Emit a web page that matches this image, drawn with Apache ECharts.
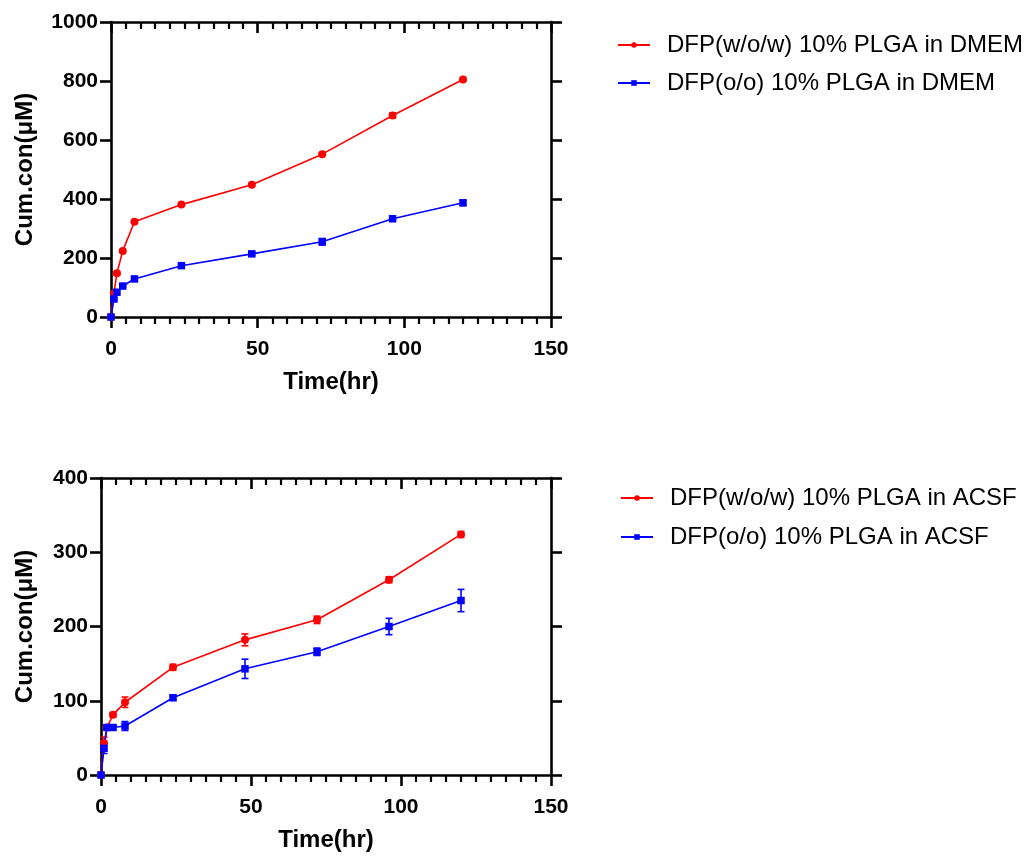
<!DOCTYPE html>
<html><head><meta charset="utf-8">
<script src="https://cdn.jsdelivr.net/npm/echarts@6/dist/echarts.min.js"></script>
<style>html,body{margin:0;padding:0;background:#fff}#c{width:1034px;height:859px}</style>
</head><body><div id="c"></div>
<script>
// Time points (hr)
const timeHr = [0, 1, 2, 4, 8, 24, 48, 72, 96, 120];
// Top panel (DMEM)
const dmemWowName = 'DFP(w/o/w) 10% PLGA in DMEM';
const dmemOoName = 'DFP(o/o) 10% PLGA in DMEM';
const dmemWow = [0, 80, 148, 224, 323, 381, 448, 552, 683, 805];
const dmemWowErr = [0, 4, 5, 4, 4, 4, 4, 4, 9, 4];
const dmemOo = [0, 61, 84, 105, 129, 174, 214, 255, 333, 387];
const dmemOoErr = [0, 4, 4, 4, 5, 4, 5, 11, 4, 9];
// Bottom panel (ACSF)
const acsfWowName = 'DFP(w/o/w) 10% PLGA in ACSF';
const acsfOoName = 'DFP(o/o) 10% PLGA in ACSF';
const acsfWow = [0, 43, 64, 81, 98, 145, 182, 209, 263, 324];
const acsfWowErr = [0, 8, 3, 3, 7, 4, 8, 5, 4, 4];
const acsfOo = [0, 36, 64, 64, 66, 104, 143, 166, 200, 235];
const acsfOoErr = [0, 7, 3, 3, 6, 3, 13, 5, 11, 15];
// Axis ticks
const xTicks = {min: 0, max: 150, interval: 50};
const yTicksTop = {min: 0, max: 1000, interval: 200};
const yTicksBottom = {min: 0, max: 400, interval: 100};

const RED = '#ff0000', BLUE = '#0000ff';
const FONT = 'Liberation Sans, Arial, sans-serif';

function pairs(ys) { return timeHr.map((t, i) => [t, ys[i]]); }
function errData(ys, es) { return timeHr.map((t, i) => [t, ys[i], es[i]]); }

function lineSeries(name, ys, color, symbol, gi) {
  return {
    type: 'line', name: name, data: pairs(ys), xAxisIndex: gi * 2, yAxisIndex: gi * 2,
    symbol: symbol, symbolSize: symbol === 'circle' ? 8 : 7.5, clip: false,
    itemStyle: {color: color}, lineStyle: {color: color, width: 1.6}, z: 5
  };
}
function errSeries(ys, es, color, gi) {
  return {
    type: 'custom', xAxisIndex: gi * 2, yAxisIndex: gi * 2, data: errData(ys, es),
    encode: {x: 0, y: 1}, z: 4, silent: true, clip: false,
    renderItem: function (params, api) {
      const x = api.value(0), y = api.value(1), e = api.value(2);
      const t = api.coord([x, y + e]), b = api.coord([x, y - e]);
      const w = 3.5;
      const st = {stroke: color, lineWidth: 1.6};
      return {type: 'group', children: [
        {type: 'line', shape: {x1: t[0], y1: t[1], x2: b[0], y2: b[1]}, style: st},
        {type: 'line', shape: {x1: t[0] - w, y1: t[1], x2: t[0] + w, y2: t[1]}, style: st},
        {type: 'line', shape: {x1: b[0] - w, y1: b[1], x2: b[0] + w, y2: b[1]}, style: st}
      ]};
    }
  };
}

const axLine = {show: true, onZero: false, lineStyle: {color: '#000', width: 2.6}};
const lblStyle = {color: '#000', fontFamily: FONT, fontWeight: 'bold', fontSize: 21, formatter: v => String(v)};
const nameStyle = {color: '#000', fontFamily: FONT, fontWeight: 'bold', fontSize: 24};

function xAxes(gi) {
  return [
    Object.assign({type: 'value', gridIndex: gi, position: 'bottom', axisLine: axLine,
      axisTick: {show: true, inside: false, length: 11, lineStyle: {width: 2.6, color: '#000'}},
      minorTick: {show: true, splitNumber: 10, length: 7, lineStyle: {width: 2.2, color: '#000'}},
      axisLabel: Object.assign({margin: 22}, lblStyle), splitLine: {show: false},
      name: 'Time(hr)', nameLocation: 'middle', nameGap: 53, nameTextStyle: nameStyle}, xTicks),
    Object.assign({type: 'value', gridIndex: gi, position: 'top', axisLine: axLine,
      axisTick: {show: true, inside: true, length: 11, lineStyle: {width: 2.6, color: '#000'}},
      minorTick: {show: true, splitNumber: 10, length: 7, lineStyle: {width: 2.2, color: '#000'}},
      axisLabel: {show: false}, splitLine: {show: false}}, xTicks)
  ];
}
function yAxes(gi, ticks, gap) {
  return [
    Object.assign({type: 'value', gridIndex: gi, position: 'left', axisLine: axLine,
      axisTick: {show: true, inside: false, length: 11, lineStyle: {width: 2.6, color: '#000'}},
      axisLabel: Object.assign({margin: 13}, lblStyle), splitLine: {show: false},
      name: 'Cum.con(μM)', nameLocation: 'middle', nameGap: gap, nameTextStyle: nameStyle}, ticks),
    Object.assign({type: 'value', gridIndex: gi, position: 'right', axisLine: axLine,
      axisTick: {show: true, inside: false, length: 11, lineStyle: {width: 2.6, color: '#000'}},
      axisLabel: {show: false}, splitLine: {show: false}}, ticks)
  ];
}

const legendText = {color: '#000', fontFamily: FONT, fontSize: 24};

const option = {
  animation: false,
  backgroundColor: '#fff',
  grid: [
    {left: 111, top: 22, width: 440, height: 295},
    {left: 101, top: 478, width: 450, height: 297}
  ],
  xAxis: [...xAxes(0), ...xAxes(1)],
  yAxis: [...yAxes(0, yTicksTop, 74), ...yAxes(1, yTicksBottom, 64)],
  legend: [
    {orient: 'vertical', left: 612, top: 28, itemWidth: 32, itemHeight: 7, itemGap: 14,
      data: [dmemWowName, dmemOoName], textStyle: Object.assign({padding: [0, 0, 0, 12]}, legendText)},
    {orient: 'vertical', left: 615, top: 481, itemWidth: 32, itemHeight: 7, itemGap: 15,
      data: [acsfWowName, acsfOoName], textStyle: Object.assign({padding: [0, 0, 0, 12]}, legendText)}
  ],
  series: [
    errSeries(dmemWow, dmemWowErr, RED, 0),
    errSeries(dmemOo, dmemOoErr, BLUE, 0),
    lineSeries(dmemWowName, dmemWow, RED, 'circle', 0),
    lineSeries(dmemOoName, dmemOo, BLUE, 'rect', 0),
    errSeries(acsfWow, acsfWowErr, RED, 1),
    errSeries(acsfOo, acsfOoErr, BLUE, 1),
    lineSeries(acsfWowName, acsfWow, RED, 'circle', 1),
    lineSeries(acsfOoName, acsfOo, BLUE, 'rect', 1)
  ]
};
const chart = echarts.init(document.getElementById('c'), null, {renderer: 'canvas'});
chart.setOption(option);
</script></body></html>
